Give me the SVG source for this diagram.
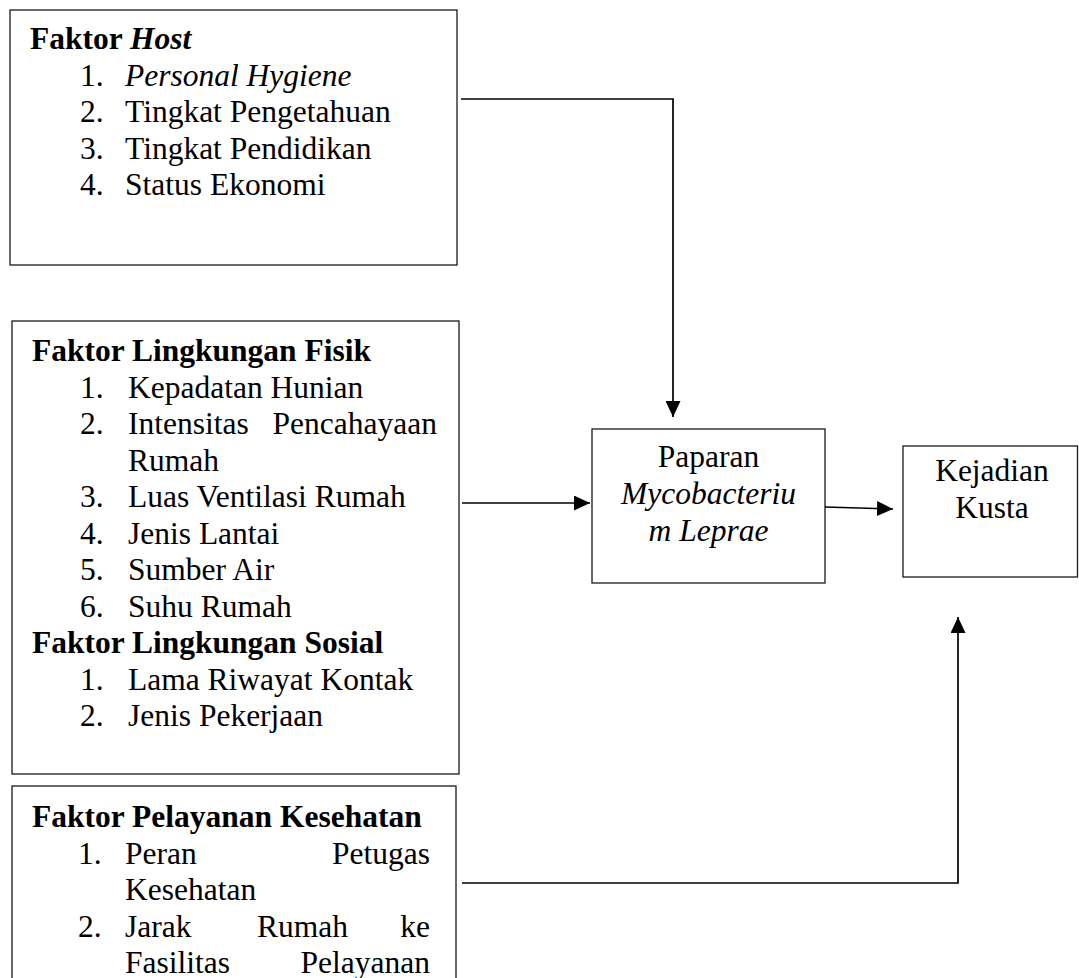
<svg xmlns="http://www.w3.org/2000/svg" width="1079" height="978" viewBox="0 0 1079 978">
<style>
  .box { fill: #ffffff; stroke: #1a1a1a; stroke-width: 1.3; }
  .t { font-family: "Liberation Serif", "Times New Roman", serif; font-size: 31.5px; fill: #000; }
  .b { font-weight: bold; }
  .i { font-style: italic; }
  .c { text-anchor: middle; }
  .e { text-anchor: end; }
  .conn { fill: none; stroke: #000; stroke-width: 1.7; }
</style>
<defs>
  <marker id="arrow" markerUnits="userSpaceOnUse" markerWidth="16" markerHeight="15" refX="16" refY="7.5" orient="auto">
    <path d="M0,0 L16,7.5 L0,15 z" fill="#000"/>
  </marker>
</defs>
<rect width="1079" height="978" fill="#ffffff"/>

<g id="node-host">
  <rect class="box" x="10" y="10" width="447" height="255"/>
  <text class="t b" x="30" y="49">Faktor <tspan class="i">Host</tspan></text>
  <text class="t" x="80" y="85.5">1.</text><text class="t i" x="125" y="85.5">Personal Hygiene</text>
  <text class="t" x="80" y="122">2.</text><text class="t" x="125" y="122">Tingkat Pengetahuan</text>
  <text class="t" x="80" y="158.5">3.</text><text class="t" x="125" y="158.5">Tingkat Pendidikan</text>
  <text class="t" x="80" y="195">4.</text><text class="t" x="125" y="195">Status Ekonomi</text>
</g>

<g id="node-lingkungan">
  <rect class="box" x="12" y="321" width="447" height="453"/>
  <text class="t b" x="32" y="361">Faktor Lingkungan Fisik</text>
  <text class="t" x="80" y="397.5">1.</text><text class="t" x="128" y="397.5">Kepadatan Hunian</text>
  <text class="t" x="80" y="434">2.</text><text class="t" x="128" y="434">Intensitas</text><text class="t e" x="437" y="434">Pencahayaan</text>
  <text class="t" x="128" y="470.5">Rumah</text>
  <text class="t" x="80" y="507">3.</text><text class="t" x="128" y="507">Luas Ventilasi Rumah</text>
  <text class="t" x="80" y="543.5">4.</text><text class="t" x="128" y="543.5">Jenis Lantai</text>
  <text class="t" x="80" y="580">5.</text><text class="t" x="128" y="580">Sumber Air</text>
  <text class="t" x="80" y="616.5">6.</text><text class="t" x="128" y="616.5">Suhu Rumah</text>
  <text class="t b" x="32" y="653">Faktor Lingkungan Sosial</text>
  <text class="t" x="80" y="689.5">1.</text><text class="t" x="128" y="689.5">Lama Riwayat Kontak</text>
  <text class="t" x="80" y="726">2.</text><text class="t" x="128" y="726">Jenis Pekerjaan</text>
</g>

<g id="node-pelayanan">
  <rect class="box" x="12" y="786" width="444" height="220"/>
  <text class="t b" x="32" y="827">Faktor Pelayanan Kesehatan</text>
  <text class="t" x="78" y="863.5">1.</text><text class="t" x="125" y="863.5">Peran</text><text class="t e" x="430" y="863.5">Petugas</text>
  <text class="t" x="125" y="900">Kesehatan</text>
  <text class="t" x="78" y="936.5">2.</text><text class="t" x="125" y="936.5">Jarak</text><text class="t" x="257" y="936.5">Rumah</text><text class="t e" x="430" y="936.5">ke</text>
  <text class="t" x="125" y="973">Fasilitas</text><text class="t e" x="430" y="973">Pelayanan</text>
</g>

<g id="node-paparan">
  <rect class="box" x="592" y="429" width="233" height="154"/>
  <text class="t c" x="708.5" y="467">Paparan</text>
  <text class="t c i" x="708.5" y="504">Mycobacteriu</text>
  <text class="t c i" x="708.5" y="541">m Leprae</text>
</g>

<g id="node-kejadian">
  <rect class="box" x="903" y="446" width="174.5" height="131"/>
  <text class="t c" x="992" y="481">Kejadian</text>
  <text class="t c" x="992" y="517.5">Kusta</text>
</g>

<g id="connectors">
  <polyline class="conn" points="461,99 673,99 673,417" marker-end="url(#arrow)"/>
  <line class="conn" x1="462" y1="503" x2="590" y2="503" marker-end="url(#arrow)"/>
  <line class="conn" x1="825" y1="507" x2="893" y2="509" marker-end="url(#arrow)"/>
  <polyline class="conn" points="462,883 958,883 958,617" marker-end="url(#arrow)"/>
</g>
</svg>
